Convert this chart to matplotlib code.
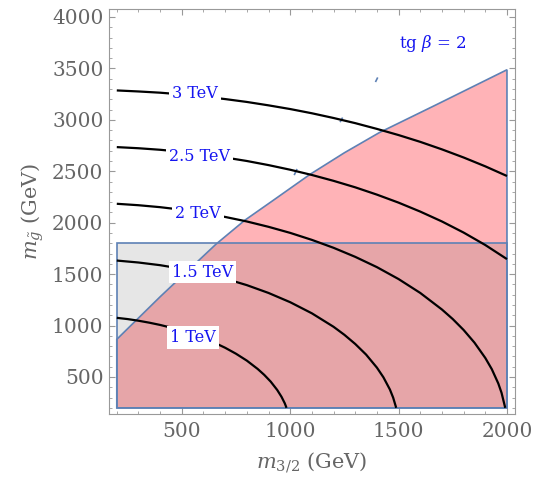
import matplotlib.pyplot as plt
from matplotlib.patches import Rectangle, Polygon

plt.rcParams['font.family'] = 'DejaVu Serif'
plt.rcParams['mathtext.fontset'] = 'dejavuserif'

# excluded region boundary (m32, mgluino)
bnd_x = [200, 400, 657, 790, 920, 1090, 1250, 1412, 1674, 2000]
bnd_y = [866, 1280, 1790, 2023, 2215, 2468, 2680, 2877, 3147, 3487]

# gray box
box_x = [200, 2000]
box_y = [200, 1800]

# contour lines
c1_x = [200, 250, 300, 350, 400, 450, 500, 550, 600, 650, 700, 750, 800, 850, 880, 910, 940, 960, 975, 983]
c1_y = [1075, 1063, 1047, 1028, 1006, 980, 951, 917, 878, 834, 784, 726, 659, 578, 521, 455, 374, 307, 244, 200]
c15_x = [200, 300, 400, 500, 600, 700, 800, 900, 1000, 1100, 1200, 1250, 1300, 1350, 1400, 1430, 1460, 1475, 1489]
c15_y = [1632, 1613, 1587, 1552, 1509, 1456, 1393, 1317, 1227, 1119, 988, 910, 821, 718, 591, 497, 378, 299, 200]
c2_x = [200, 300, 400, 500, 600, 700, 800, 900, 1000, 1100, 1200, 1300, 1400, 1500, 1600, 1700, 1750,
        1800, 1850, 1900, 1930, 1960, 1975, 1992]
c2_y = [2184, 2170, 2151, 2126, 2094, 2056, 2012, 1960, 1901, 1833, 1756, 1668, 1568, 1452, 1317, 1156, 1063,
        957, 834, 685, 576, 437, 346, 200]
c25_x = [200, 300, 400, 500, 600, 700, 800, 900, 1000, 1100, 1200, 1300, 1400, 1500, 1600, 1700, 1800, 1900, 2000]
c25_y = [2735, 2724, 2709, 2689, 2664, 2634, 2600, 2560, 2515, 2464, 2407, 2344, 2273, 2195, 2108, 2012, 1904,
         1783, 1646]
c3_x = [200, 300, 400, 500, 600, 700, 800, 900, 1000, 1100, 1200, 1300, 1400, 1500, 1600, 1700, 1800, 1900, 2000]
c3_y = [3286, 3276, 3264, 3247, 3226, 3202, 3174, 3141, 3105, 3064, 3018, 2968, 2912, 2852, 2786, 2713, 2634,
        2548, 2454]

labels = ['3 TeV', '2.5 TeV', '2 TeV', '1.5 TeV', '1 TeV']
label_x = [560, 583, 574, 597, 551]
label_y = [3253, 2643, 2085, 1520, 883]

# small stray islands of the boundary
isl_x = [[1395, 1402], [1232, 1240], [1020, 1030]]
isl_y = [[3375, 3405], [2985, 3015], [2470, 2515]]

edge = '#5E81B5'
fig = plt.figure(figsize=(5.35, 4.84), dpi=100)
ax = fig.add_axes([0.2037, 0.1446, 0.7589, 0.8358])

poly = list(zip(bnd_x, bnd_y)) + [(2000, 200), (200, 200)]
ax.add_patch(Polygon(poly, closed=True, facecolor='#FFB3B7', edgecolor='none', zorder=1))
ax.add_patch(Rectangle((box_x[0], box_y[0]), box_x[1] - box_x[0], box_y[1] - box_y[0],
                       facecolor='#535353', alpha=0.145, edgecolor='none', zorder=2))
ax.add_patch(Rectangle((box_x[0], box_y[0]), box_x[1] - box_x[0], box_y[1] - box_y[0],
                       facecolor='none', edgecolor=edge, lw=1.2, zorder=2.5))
ax.add_patch(Polygon(poly, closed=True, facecolor='none', edgecolor=edge, lw=1.2, zorder=2.5))
for xs, ys in zip(isl_x, isl_y):
    ax.plot(xs, ys, color=edge, lw=1.2, zorder=2.5)

for xs, ys in [(c1_x, c1_y), (c15_x, c15_y), (c2_x, c2_y), (c25_x, c25_y), (c3_x, c3_y)]:
    ax.plot(xs, ys, color='black', lw=1.6, zorder=3, solid_capstyle='butt')

for t, x, y in zip(labels, label_x, label_y):
    ax.text(x, y, t, color='#1515F0', fontsize=11.5, ha='center', va='center', zorder=4,
            bbox=dict(boxstyle='square,pad=0.18', facecolor='white', edgecolor='none'))

ax.text(1657, 3747, r'tg $\beta$ = 2', color='#1515F0', fontsize=12, ha='center', va='center')

ax.set_xlim(164, 2037)
ax.set_ylim(140, 4073)
ax.set_xticks([500, 1000, 1500, 2000])
ax.set_xticks(range(200, 2001, 100), minor=True)
ax.set_yticks([500, 1000, 1500, 2000, 2500, 3000, 3500, 4000])
ax.set_yticks(range(200, 4001, 100), minor=True)
ax.tick_params(which='both', direction='in', top=True, right=True, colors='#999999',
               labelcolor='#666666', labelsize=14.5)
ax.tick_params(which='major', length=4.5, width=0.8)
ax.tick_params(which='minor', length=2.5, width=0.6)
ax.tick_params(axis='x', pad=6)
ax.tick_params(axis='y', pad=4)
for s in ax.spines.values():
    s.set_color('#999999')

ax.set_xlabel(r'$m_{3/2}$ (GeV)', fontsize=15, color='#666666', labelpad=6)
ax.set_ylabel(r'$m_{\tilde{g}}$ (GeV)', fontsize=15, color='#666666', labelpad=4)

fig.savefig('out.png', dpi=100)
